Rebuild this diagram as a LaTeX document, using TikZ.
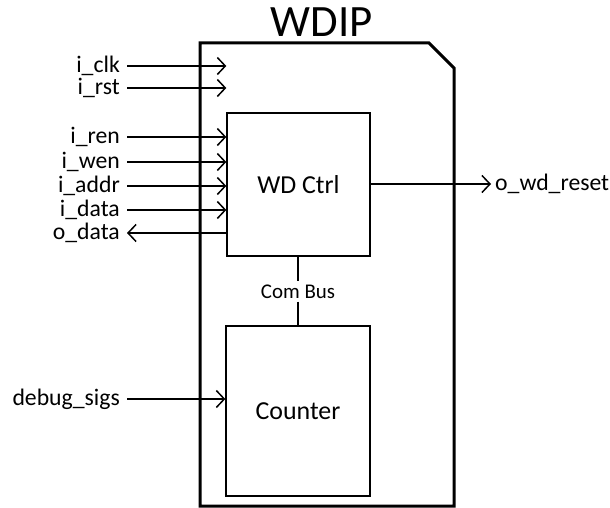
\documentclass[tikz,border=0pt]{standalone}
\usepackage{fontspec}
\setmainfont{Carlito}
\usetikzlibrary{arrows.meta}
\begin{document}
\begin{tikzpicture}[x=1bp,y=-1bp,
  blk/.style={draw=black,line width=1.3bp,rectangle,inner sep=0pt,font=\fontsize{26}{30}\selectfont},
  sig/.style={font=\fontsize{23.8}{28}\selectfont,inner ysep=0pt,inner xsep=7bp},
  arr/.style={line width=1.5bp,-{Straight Barb[length=8bp,width=17bp,line width=1.5bp]}},
  bus/.style={line width=1.5bp}]
\useasboundingbox (0,0) rectangle (610,508);
% outer chamfered block
\draw[line width=3bp,line join=miter] (200,506) -- (200,43) -- (429,43) -- (454,68) -- (454,506) -- cycle;
\node[anchor=base,font=\fontsize{45}{50}\selectfont,inner sep=0pt] (title) at (321.5,37) {WDIP};
% inner blocks
\node[blk,minimum width=143bp,minimum height=143bp] (ctrl) at (298.5,184.5) {WD Ctrl};
\node[blk,minimum width=144bp,minimum height=170bp] (cnt) at (298,411) {Counter};
\node[font=\fontsize{21}{25}\selectfont,inner xsep=0pt,inner ysep=3bp] (bus) at (298,291.5) {Com Bus};
\draw[bus] (ctrl.south -| bus) -- (bus.north);
\draw[bus] (bus.south) -- (cnt.north -| bus);
% input labels
\node[sig,anchor=east] (clk) at (127,66) {i\_clk};
\node[sig,anchor=east] (rst) at (127,88) {i\_rst};
\node[sig,anchor=east] (ren) at (127,137) {i\_ren};
\node[sig,anchor=east] (wen) at (127,162) {i\_wen};
\node[sig,anchor=east] (addr) at (127,186) {i\_addr};
\node[sig,anchor=east] (idata) at (127,210) {i\_data};
\node[sig,anchor=east] (odata) at (127,233) {o\_data};
\node[sig,anchor=east] (dbg) at (127,399) {debug\_sigs};
\node[sig,anchor=west,inner xsep=4bp] (wdr) at (491,184) {o\_wd\_reset};
% connectors
\draw[arr] (clk.east) -- (clk.east -| ctrl.west);
\draw[arr] (rst.east) -- (rst.east -| ctrl.west);
\draw[arr] (ren.east) -- (ren.east -| ctrl.west);
\draw[arr] (wen.east) -- (wen.east -| ctrl.west);
\draw[arr] (addr.east) -- (addr.east -| ctrl.west);
\draw[arr] (idata.east) -- (idata.east -| ctrl.west);
\draw[arr] (odata.east -| ctrl.west) -- (odata.east);
\draw[arr] (dbg.east) -- (dbg.east -| cnt.west);
\draw[arr] (ctrl.east |- wdr.west) -- (wdr.west);
\end{tikzpicture}
\end{document}
